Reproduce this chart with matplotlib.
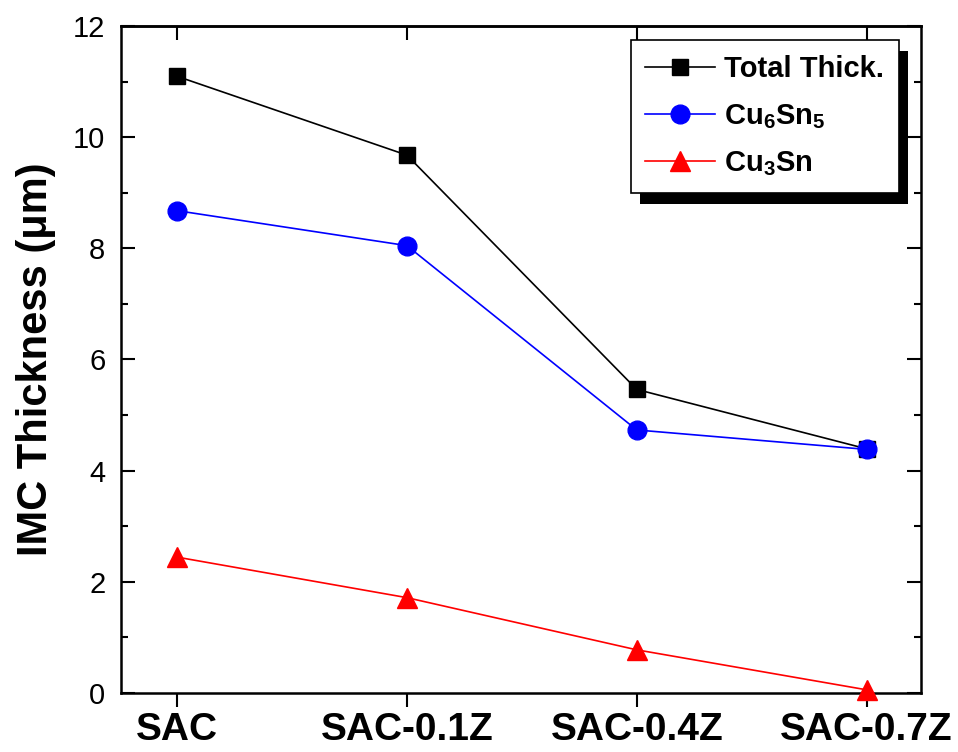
import numpy as np
import matplotlib
matplotlib.use('Agg')
import matplotlib.pyplot as plt
import matplotlib.patheffects as pe
from matplotlib.ticker import MultipleLocator

plt.rcParams['font.family'] = ['Liberation Sans', 'DejaVu Sans']
plt.rcParams['mathtext.fontset'] = 'custom'
plt.rcParams['mathtext.rm'] = 'Liberation Sans:bold'
plt.rcParams['mathtext.bf'] = 'Liberation Sans:bold'
plt.rcParams['mathtext.default'] = 'bf'

# data
samples = ['SAC', 'SAC-0.1Z', 'SAC-0.4Z', 'SAC-0.7Z']
total_thick = [11.1, 9.68, 5.46, 4.39]
cu6sn5 = [8.68, 8.05, 4.73, 4.38]
cu3sn = [2.44, 1.71, 0.77, 0.05]

fig = plt.figure(figsize=(9.58, 7.52), dpi=100)
ax = fig.add_axes([0.126, 0.079, 0.835, 0.886])

x = np.arange(len(samples))
ax.plot(x, total_thick, color='black', lw=1.2, marker='s', ms=11.5,
        label='Total Thick.', clip_on=False, zorder=3)
ax.plot(x, cu6sn5, color='blue', lw=1.2, marker='o', ms=13.5,
        label='Cu$_6$Sn$_5$', clip_on=False, zorder=4)
ax.plot(x, cu3sn, color='red', lw=1.2, marker='^', ms=14,
        label='Cu$_3$Sn', clip_on=False, zorder=5)

ax.set_xlim(-0.245, 3.235)
ax.set_ylim(0, 12)
ax.set_xticks(x)
ax.set_xticklabels(samples, fontsize=28, fontweight='bold')
ax.yaxis.set_major_locator(MultipleLocator(2))
ax.yaxis.set_minor_locator(MultipleLocator(1))
ax.set_ylabel('IMC Thickness (μm)', fontsize=30, fontweight='bold', labelpad=12)

for s in ax.spines.values():
    s.set_linewidth(1.8)

# inward ticks on left/right/top, outward on bottom
ax.tick_params(axis='y', which='both', direction='in', left=True, right=True,
               labelsize=21, width=1.5, pad=11)
ax.tick_params(axis='y', which='major', length=10)
ax.tick_params(axis='y', which='minor', length=5)
ax.tick_params(axis='x', direction='out', length=10, width=1.5, pad=4)

top = ax.secondary_xaxis('top')
top.set_xticks(x)
top.tick_params(direction='in', length=10, width=1.5, labeltop=False)
top.spines['top'].set_linewidth(1.8)

leg = ax.legend(loc='upper right', bbox_to_anchor=(0.9725, 0.979), borderaxespad=0,
                prop={'weight': 'bold', 'size': 21}, fancybox=False,
                edgecolor='black', framealpha=1, handlelength=2.4, handletextpad=0.3,
                borderpad=0.5, labelspacing=0.65)
leg.get_frame().set_linewidth(1.2)
leg.get_frame().set_path_effects([
    pe.SimplePatchShadow(offset=(7, -8), shadow_rgbFace='black', alpha=1),
    pe.Normal()])

fig.savefig('out.png', dpi=100)
